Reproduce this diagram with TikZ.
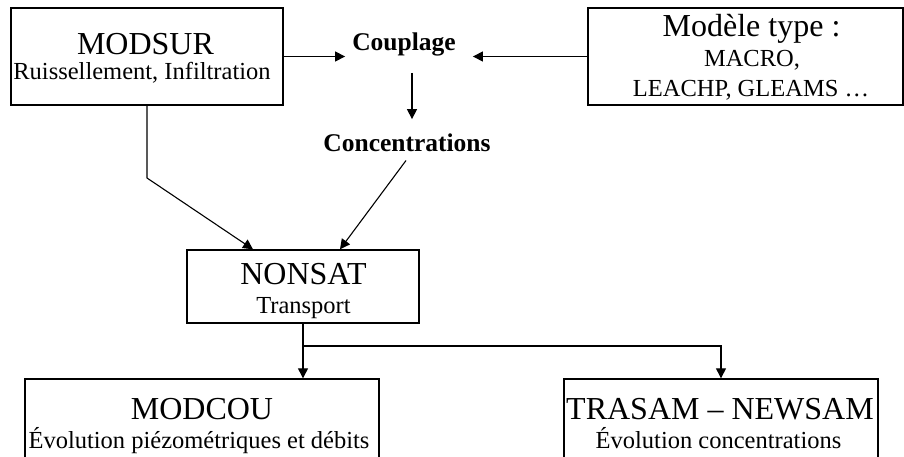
\documentclass[tikz,border=0pt]{standalone}
\usepackage{fontspec}
\setmainfont{Liberation Serif}
\usetikzlibrary{arrows.meta}
\begin{document}
\begin{tikzpicture}[x=1pt,y=-1pt,
  box/.style={draw,line width=1.4pt,inner sep=0pt,rectangle},
  big/.style={anchor=base,inner sep=0pt,font=\fontsize{32}{38}\selectfont},
  small/.style={anchor=base,inner sep=0pt,font=\fontsize{24.5}{29}\selectfont},
  label/.style={anchor=base,inner sep=0pt,font=\fontsize{25.5}{30}\selectfont\bfseries},
  arr/.style={line width=1.3pt,-{Triangle[width=10pt,length=10pt]}},
  thinarr/.style={line width=1.1pt,-{Triangle[width=10pt,length=10pt]}}]
\useasboundingbox (0,0) rectangle (904,457);
\clip (0,0) rectangle (904,457);

% boxes
\node[box,minimum width=272pt,minimum height=97pt] (modsur) at (147,56.5) {};
\node[box,minimum width=315pt,minimum height=97pt] (modele) at (745.5,56.5) {};
\node[box,minimum width=232pt,minimum height=73pt] (nonsat) at (303,286.5) {};
\node[box,minimum width=354pt,minimum height=91pt] (modcou) at (202,424.5) {};
\node[box,minimum width=314pt,minimum height=91pt] (trasam) at (721,424.5) {};

% box texts
\node[big] (t1) at (145.5,55) {MODSUR};
\node[small] (t2) at (142,80) {Ruissellement, Infiltration};
\node[big] (t3) at (751.5,37) {Modèle type :};
\node[small] (t4) at (752,67) {MACRO,};
\node[small] (t5) at (751,97) {LEACHP, GLEAMS …};
\node[big] (t6) at (303.5,284) {NONSAT};
\node[small] (t7) at (303.5,313) {Transport};
\node[big] (t8) at (202,419) {MODCOU};
\node[small] (t9) at (199,448) {Évolution piézométriques et débits};
\node[big] (t10) at (720,419) {TRASAM – NEWSAM};
\node[small] (t11) at (718.5,448) {Évolution concentrations};

% free labels
\node[label] (couplage) at (404,51) {Couplage};
\node[label] (concentr) at (407,152) {Concentrations};

% connectors
\coordinate (bend) at (147,178);
\coordinate (split) at (303,346);
\draw[arr,shorten >=7pt] (modsur.east) -- (modsur.east -| couplage.west);
\draw[arr,shorten >=17pt] (modele.west) -- (modele.west -| couplage.east);
\draw[arr,shorten <=16pt,shorten >=15pt] ([xshift=8pt]couplage.south) -- ([xshift=5pt]concentr.north);
\draw[thinarr] (modsur.south) -- (bend) -- ([xshift=-50pt]nonsat.north);
\draw[thinarr,shorten <=10pt] ([xshift=5pt]concentr.south) -- ([xshift=37pt]nonsat.north);
\draw[arr] (nonsat.south) -- (nonsat.south |- modcou.north);
\draw[arr] (split) -| (trasam.north);
\end{tikzpicture}
\end{document}
